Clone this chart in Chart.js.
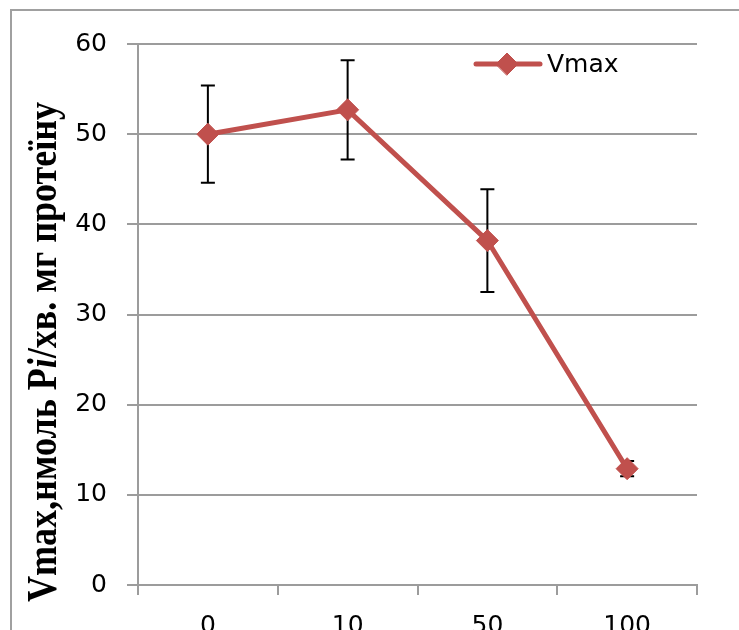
<!DOCTYPE html>
<html>
<head>
<meta charset="utf-8">
<script src="https://cdn.jsdelivr.net/npm/chart.js@4.4.1/dist/chart.umd.min.js"></script>
<style>
  html, body { margin: 0; padding: 0; background: #fff; }
  #wrap { width: 739px; height: 630px; overflow: hidden; }
</style>
</head>
<body>
<div id="wrap"><canvas id="vmaxChart" width="739" height="630"></canvas></div>
<script>
// concentrations on the x axis and the measured Vmax with its spread
const categories = ['0', '10', '50', '100'];
const vmaxValues = [50.0, 52.7, 38.2, 12.9];
const vmaxErrors = [5.4, 5.5, 5.7, 0.85];
const yTicks = [0, 10, 20, 30, 40, 50, 60];

const seriesLabel = 'Vmax';
const lineColor = '#C0504D';
const gridColor = '#9c9c9c';
const tickFont = { family: 'DejaVu Sans', size: 25 };

// y axis title, with the italic "i" in Pi
const titleRuns = [
    { text: 'Vmax,нмоль P', style: 'bold' },
    { text: 'i', style: 'italic bold' },
    { text: '/хв. мг протеїну', style: 'bold' }
];

// outer frame of the chart object (only left and top edges fit in the canvas)
const framePlugin = {
    id: 'frame',
    beforeDraw(chart) {
        const ctx = chart.ctx;
        ctx.save();
        ctx.strokeStyle = '#a0a0a0';
        ctx.lineWidth = 2;
        ctx.beginPath();
        ctx.moveTo(11, 700);
        ctx.lineTo(11, 10);
        ctx.lineTo(800, 10);
        ctx.stroke();
        ctx.restore();
    }
};

// vertical error bars with caps, drawn under the line
const errorBarPlugin = {
    id: 'errorBars',
    beforeDatasetsDraw(chart) {
        const ctx = chart.ctx;
        const y = chart.scales.y;
        const meta = chart.getDatasetMeta(0);
        ctx.save();
        ctx.strokeStyle = '#000';
        ctx.lineWidth = 2;
        meta.data.forEach((pt, i) => {
            const top = y.getPixelForValue(vmaxValues[i] + vmaxErrors[i]);
            const bottom = y.getPixelForValue(vmaxValues[i] - vmaxErrors[i]);
            ctx.beginPath();
            ctx.moveTo(pt.x, top);
            ctx.lineTo(pt.x, bottom);
            ctx.moveTo(pt.x - 7, top);
            ctx.lineTo(pt.x + 7, top);
            ctx.moveTo(pt.x - 7, bottom);
            ctx.lineTo(pt.x + 7, bottom);
            ctx.stroke();
        });
        ctx.restore();
    }
};

// rotated serif axis title
const axisTitlePlugin = {
    id: 'axisTitle',
    afterDraw(chart) {
        const ctx = chart.ctx;
        const size = 42;
        const length = 500;
        ctx.save();
        let total = 0;
        titleRuns.forEach(r => {
            ctx.font = r.style + ' ' + size + 'px "Liberation Serif"';
            total += ctx.measureText(r.text).width;
        });
        ctx.translate(56, 602);
        ctx.rotate(-Math.PI / 2);
        ctx.scale(length / total, 1);
        ctx.fillStyle = '#000';
        ctx.textBaseline = 'alphabetic';
        let x = 0;
        titleRuns.forEach(r => {
            ctx.font = r.style + ' ' + size + 'px "Liberation Serif"';
            ctx.fillText(r.text, x, 0);
            x += ctx.measureText(r.text).width;
        });
        ctx.restore();
    }
};

// legend entry: line with a diamond marker and the series name
const legendPlugin = {
    id: 'lineLegend',
    afterDraw(chart) {
        const ctx = chart.ctx;
        const cy = 64;
        ctx.save();
        ctx.strokeStyle = lineColor;
        ctx.lineWidth = 5;
        ctx.lineCap = 'round';
        ctx.beginPath();
        ctx.moveTo(476, cy);
        ctx.lineTo(540, cy);
        ctx.stroke();
        ctx.fillStyle = lineColor;
        ctx.lineWidth = 1;
        Chart.helpers.drawPoint(ctx, { pointStyle: 'rectRot', radius: 11, rotation: 0, borderWidth: 1 }, 507, cy);
        ctx.fillStyle = '#000';
        ctx.font = '25px "DejaVu Sans"';
        ctx.textBaseline = 'middle';
        ctx.fillText(seriesLabel, 547, cy + 1);
        ctx.restore();
    }
};

const ctx = document.getElementById('vmaxChart');

new Chart(ctx, {
    type: 'line',
    data: {
        labels: categories,
        datasets: [{
            label: seriesLabel,
            data: vmaxValues,
            borderColor: lineColor,
            backgroundColor: lineColor,
            borderWidth: 5,
            tension: 0,
            pointStyle: 'rectRot',
            pointRadius: 11,
            pointBackgroundColor: lineColor,
            pointBorderColor: lineColor,
            pointBorderWidth: 1
        }]
    },
    options: {
        responsive: false,
        animation: false,
        layout: { padding: { top: 44, right: 42, left: 0, bottom: 0 } },
        plugins: {
            legend: { display: false },
            tooltip: { enabled: false }
        },
        scales: {
            x: {
                offset: true,
                grid: {
                    offset: true,
                    drawOnChartArea: false,
                    drawTicks: true,
                    tickLength: 10,
                    color: gridColor,
                    lineWidth: 2
                },
                border: { display: true, color: gridColor, width: 2 },
                ticks: { font: tickFont, color: '#000', padding: 16, maxRotation: 0 },
                afterFit(scale) { scale.height = 45; }
            },
            y: {
                min: 0,
                max: 60,
                afterBuildTicks(scale) { scale.ticks = yTicks.map(v => ({ value: v })); },
                grid: {
                    color: gridColor,
                    lineWidth: 2,
                    tickLength: 11
                },
                border: { display: true, color: gridColor, width: 2 },
                ticks: { font: tickFont, color: '#000', padding: 20 },
                afterFit(scale) { scale.width = 138; }
            }
        }
    },
    plugins: [framePlugin, errorBarPlugin, axisTitlePlugin, legendPlugin]
});
</script>
</body>
</html>
